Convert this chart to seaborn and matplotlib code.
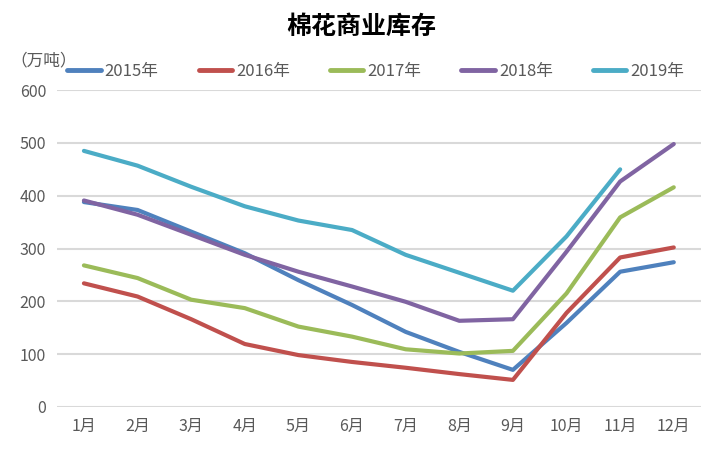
import matplotlib
matplotlib.use("Agg")
import matplotlib.pyplot as plt
import seaborn as sns
import numpy as np
import pandas as pd

# 月份与各年份棉花商业库存（万吨）
months = ["1月", "2月", "3月", "4月", "5月", "6月", "7月", "8月", "9月", "10月", "11月", "12月"]
years = ["2015年", "2016年", "2017年", "2018年", "2019年"]
stock_2015 = [388, 373, 332, 291, 240, 193, 142, 104, 70, 159, 256, 274]
stock_2016 = [234, 209, 166, 119, 98, 85, 74, 62, 51, 178, 283, 302]
stock_2017 = [268, 244, 203, 187, 152, 133, 109, 101, 106, 215, 359, 416]
stock_2018 = [391, 364, 326, 288, 256, 228, 199, 163, 166, 294, 427, 498]
stock_2019 = [485, 457, 417, 380, 353, 335, 288, 254, 220, 323, 450, np.nan]
colors = ["#4F81BD", "#C0504D", "#9BBB59", "#8064A2", "#4BACC6"]

series = [stock_2015, stock_2016, stock_2017, stock_2018, stock_2019]
df = pd.DataFrame({
    "month": np.tile(np.arange(len(months)), len(years)),
    "year": np.repeat(years, len(months)),
    "stock": np.concatenate(series),
}).dropna()

sns.set_theme(style="white")
plt.rcParams["font.family"] = ["Noto Sans CJK SC", "DejaVu Sans"]

fig = plt.figure(figsize=(7.23, 4.51), dpi=100)
ax = fig.add_axes([0.079, 0.098, 0.89, 0.702])

sns.lineplot(data=df, x="month", y="stock", hue="year", palette=colors,
             linewidth=3, ax=ax, legend=True)
for ln in ax.lines:
    ln.set_solid_capstyle("round")

ax.set_xlim(-0.5, len(months) - 0.5)
ax.set_ylim(0, 600)
ax.set_yticks(range(0, 601, 100))
ax.set_xticks(range(len(months)))
ax.set_xticklabels(months)
ax.set_xlabel("")
ax.set_ylabel("")
ax.tick_params(axis="both", length=0, labelsize=11.5, colors="#595959", pad=8)
ax.grid(axis="y", color="#d9d9d9", linewidth=1.5)
ax.set_axisbelow(True)
for s in ax.spines.values():
    s.set_visible(False)

leg = ax.legend(loc="center", bbox_to_anchor=(0.495, 1.06), ncol=5, frameon=False,
                fontsize=12, handlelength=2.0, columnspacing=2.4, handletextpad=0.25)
for t in leg.get_texts():
    t.set_color("#595959")
for h in leg.get_lines():
    h.set_linewidth(3.5)

fig.text(0.5, 0.94, "棉花商业库存", ha="center", va="center", fontsize=18,
         fontweight="bold", color="black")
fig.text(0.015, 0.866, "（万吨）", ha="left", va="center", fontsize=12, color="#595959")

fig.savefig("out.png", dpi=100)
